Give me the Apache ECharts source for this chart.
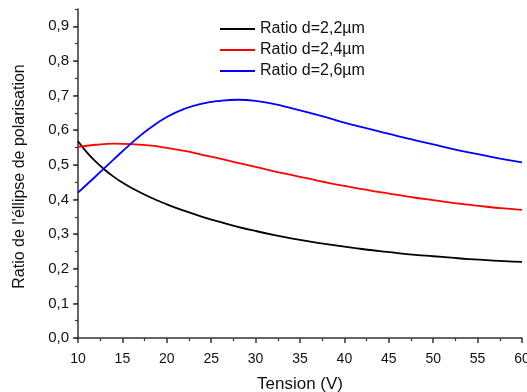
<!DOCTYPE html>
<html>
<head>
<meta charset="utf-8">
<script src="https://cdn.jsdelivr.net/npm/echarts@6/dist/echarts.min.js"></script>
<style>
html,body{margin:0;padding:0;background:#fff;}
#chart{width:527px;height:392px;}
</style>
</head>
<body>
<div id="chart"></div>
<script>
// Data
var xBlack = [10, 11, 12, 13, 14, 15, 16, 18, 20, 22, 24, 26, 28, 30, 32, 34, 36, 38, 40, 42, 44, 46, 48, 50, 52, 54, 56, 58, 60];
var yBlack = [0.568, 0.536, 0.509, 0.486, 0.466, 0.449, 0.434, 0.408, 0.386, 0.367, 0.350, 0.335, 0.321, 0.309, 0.298, 0.288, 0.279, 0.271, 0.264, 0.257, 0.251, 0.245, 0.240, 0.236, 0.232, 0.228, 0.225, 0.222, 0.220];

var xGrid = [10, 12, 14, 16, 18, 20, 22, 24, 26, 28, 30, 32, 34, 36, 38, 40, 42, 44, 46, 48, 50, 52, 54, 56, 58, 60];
var yRed = [0.552, 0.558, 0.561, 0.560, 0.556, 0.549, 0.540, 0.529, 0.518, 0.506, 0.494, 0.482, 0.471, 0.460, 0.449, 0.439, 0.430, 0.421, 0.413, 0.405, 0.398, 0.391, 0.385, 0.379, 0.374, 0.370];
var yBlue = [0.420, 0.467, 0.515, 0.562, 0.604, 0.638, 0.662, 0.677, 0.685, 0.688, 0.685, 0.676, 0.664, 0.651, 0.637, 0.622, 0.609, 0.596, 0.583, 0.571, 0.559, 0.547, 0.536, 0.526, 0.516, 0.507];

var seriesNames = ['Ratio d=2,2\u00b5m', 'Ratio d=2,4\u00b5m', 'Ratio d=2,6\u00b5m'];
var xTicks = [10, 15, 20, 25, 30, 35, 40, 45, 50, 55, 60];
var yTicks = [0, 0.1, 0.2, 0.3, 0.4, 0.5, 0.6, 0.7, 0.8, 0.9];

function pairs(xs, ys) { return xs.map(function (x, i) { return [x, ys[i]]; }); }

var FONT = 'Liberation Sans, Arial, sans-serif';
var AXIS_COLOR = '#333';
var TXT = '#111';

var chart = echarts.init(document.getElementById('chart'), null, {renderer: 'canvas'});
chart.setOption({
  animation: false,
  backgroundColor: '#fff',
  textStyle: {fontFamily: FONT},
  grid: {left: 78, right: 5, top: 9, bottom: 54, containLabel: false, outerBoundsMode: 'none'},
  legend: {
    orient: 'vertical',
    left: 220,
    top: 21,
    padding: 0,
    icon: 'rect',
    itemWidth: 35,
    itemHeight: 2,
    itemGap: 5,
    textStyle: {fontFamily: FONT, fontSize: 16, color: TXT, padding: [0, 0, 0, 0]},
    data: seriesNames
  },
  xAxis: {
    type: 'value',
    min: 10, max: 60, interval: 5,
    name: 'Tension (V)',
    nameLocation: 'middle',
    nameGap: 38,
    nameTextStyle: {fontFamily: FONT, fontSize: 17, color: TXT},
    axisLine: {show: true, onZero: false, lineStyle: {color: AXIS_COLOR, width: 1.5}},
    axisTick: {show: true, inside: false, length: 5, lineStyle: {color: AXIS_COLOR, width: 1.5}, customValues: xTicks},
    minorTick: {show: true, splitNumber: 2, length: 3, lineStyle: {color: AXIS_COLOR, width: 1.2}},
    axisLabel: {fontFamily: FONT, fontSize: 14, color: TXT, margin: 14, customValues: xTicks},
    splitLine: {show: false}
  },
  yAxis: [{
    type: 'value',
    min: 0, max: 0.95, interval: 0.05,
    name: "Ratio de l'éllipse de polarisation",
    nameLocation: 'middle',
    nameGap: 50,
    nameTextStyle: {fontFamily: FONT, fontSize: 16, color: TXT, padding: [0, 6, 0, 0]},
    axisLine: {show: true, onZero: false, lineStyle: {color: AXIS_COLOR, width: 1.5}},
    axisTick: {show: true, inside: false, length: 5, lineStyle: {color: AXIS_COLOR, width: 1.5}, customValues: yTicks},
    axisLabel: {fontFamily: FONT, fontSize: 15, color: TXT, margin: 9, customValues: yTicks,
      formatter: function (v) { return v.toFixed(1).replace('.', ','); }},
    splitLine: {show: false}
  }, {
    type: 'value',
    min: 0, max: 0.95, interval: 0.05,
    position: 'left',
    axisLine: {show: false},
    axisTick: {show: true, inside: false, length: 3, lineStyle: {color: AXIS_COLOR, width: 1.2}},
    axisLabel: {show: false},
    splitLine: {show: false}
  }],
  series: [
    {name: seriesNames[0], type: 'line', data: pairs(xBlack, yBlack), smooth: 0.5, showSymbol: false, symbol: 'none',
      lineStyle: {color: '#000000', width: 1.8}, itemStyle: {color: '#000000'}},
    {name: seriesNames[1], type: 'line', data: pairs(xGrid, yRed), smooth: 0.5, showSymbol: false, symbol: 'none',
      lineStyle: {color: '#ff0000', width: 1.8}, itemStyle: {color: '#ff0000'}},
    {name: seriesNames[2], type: 'line', data: pairs(xGrid, yBlue), smooth: 0.5, showSymbol: false, symbol: 'none',
      lineStyle: {color: '#0000ff', width: 1.8}, itemStyle: {color: '#0000ff'}}
  ]
});
</script>
</body>
</html>
